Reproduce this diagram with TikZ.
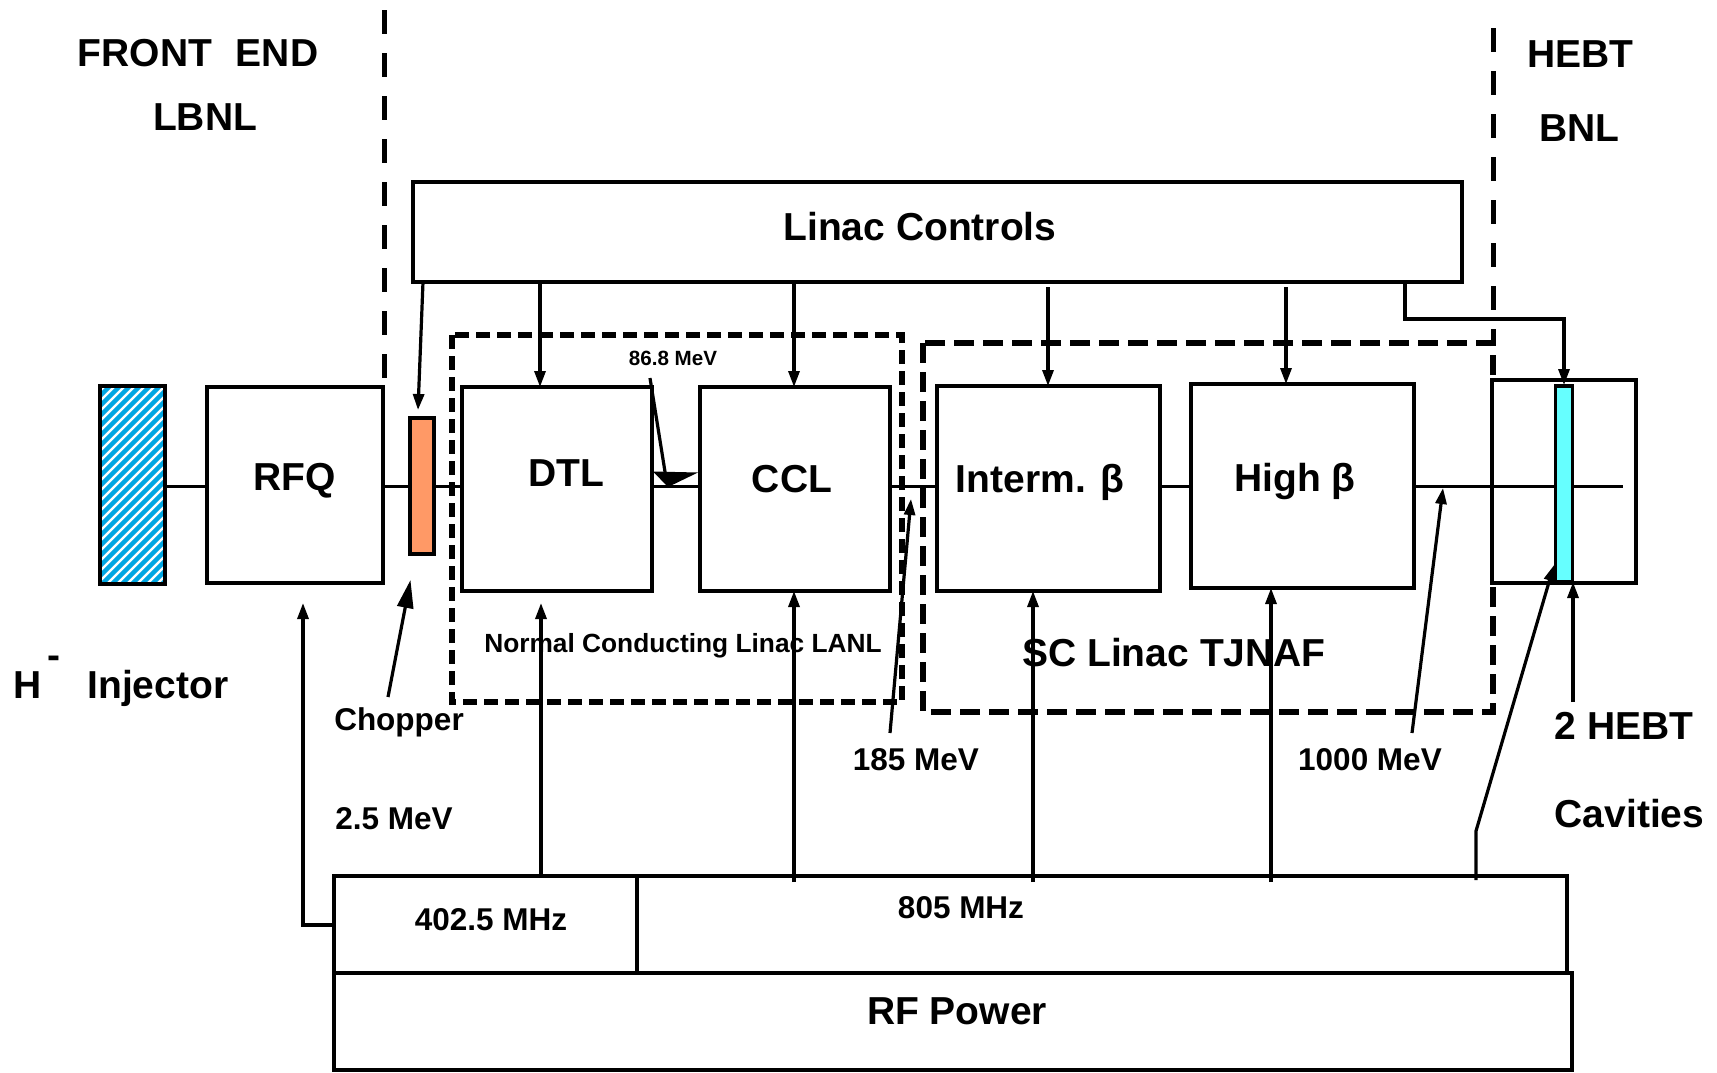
\documentclass[tikz,border=0pt]{standalone}
\usepackage{fontspec}
\setmainfont{Liberation Sans}
\usetikzlibrary{arrows.meta}
\definecolor{hatchblue}{RGB}{0,166,226}
\definecolor{chopor}{RGB}{255,153,102}
\definecolor{cavcyan}{RGB}{102,255,255}
\tikzset{
  box/.style={draw, line width=3.8pt, fill=white, inner sep=0pt, outer sep=0pt},
  big/.style={font=\fontsize{39}{46}\selectfont\bfseries, inner sep=0pt, anchor=base},
  mid/.style={font=\fontsize{31.5}{38}\selectfont\bfseries, inner sep=0pt, anchor=base},
  smalltxt/.style={font=\fontsize{26.3}{32}\selectfont\bfseries, inner sep=0pt, anchor=base},
  tinytxt/.style={font=\fontsize{20.6}{25}\selectfont\bfseries, inner sep=0pt, anchor=base},
  conn/.style={line width=3.2pt, -{Triangle[length=16pt,width=11pt]}},
  bigconn/.style={line width=3.2pt, -{Triangle[length=28pt,width=16pt]}},
  plainline/.style={line width=3.2pt},
  ncdash/.style={line width=6pt, dash pattern=on 14pt off 7pt},
  scdash/.style={line width=5.5pt, dash pattern=on 20pt off 9pt},
  sepdash/.style={line width=5pt, dash pattern=on 24pt off 19pt},
}
\begin{document}
\begin{tikzpicture}[x=1pt,y=-1pt]
\useasboundingbox (0,0) rectangle (1717,1072);

% separators
\coordinate (fe1) at (384,10);
\coordinate (fe2) at (384,387);
\draw[sepdash] (fe1) -- (fe2);
\coordinate (he1) at (1493,28);
\coordinate (he2) at (1493,343);
\draw[sepdash] (he1) -- (he2);

% group boxes
\draw[ncdash] (452,335) rectangle (902,702);
\draw[scdash] (923,343) rectangle (1493,712);

% HEBT box
\node[box, minimum width=144pt, minimum height=203pt] (hebt) at (1564,481.5) {};

% beam line
\coordinate (beamA) at (140,486);
\coordinate (beamB) at (1623,486);
\draw[line width=3pt] (beamA) -- (beamB);

% injector (hatched)
\node[box, minimum width=65pt, minimum height=198pt] (inj) at (132.5,485) {};
\begin{scope}
  \clip (100,386) rectangle (165,584);
  \foreach \k in {0,...,28} \draw[hatchblue, line width=4.5pt] ({-100+10*\k},586) -- ({100+10*\k},386);
\end{scope}
\draw[line width=4pt] (inj.north west) rectangle (inj.south east);

% main boxes
\node[box, minimum width=176pt, minimum height=196pt] (rfq) at (295,485) {};
\node[box, fill=chopor, minimum width=24pt, minimum height=136pt] (chop) at (422,486) {};
\node[box, minimum width=190pt, minimum height=204pt] (dtl) at (557,489) {};
\node[box, minimum width=190pt, minimum height=204pt] (ccl) at (795,489) {};
\node[box, minimum width=223pt, minimum height=205pt] (interm) at (1048.5,488.5) {};
\node[box, minimum width=223pt, minimum height=204pt] (high) at (1302.5,486) {};
\node[box, fill=cavcyan, minimum width=17pt, minimum height=196pt] (cav) at (1564,484) {};
\node[box, minimum width=1049pt, minimum height=100pt] (ctrl) at (937.5,232) {};
\node[box, minimum width=303pt, minimum height=97pt] (rf402) at (485.5,924.5) {};
\node[box, minimum width=930pt, minimum height=97pt] (rf805) at (1102,924.5) {};
\node[box, minimum width=1238pt, minimum height=97pt] (rfpow) at (953,1021.5) {};

% box texts
\node[big] (tctrl) at (920,240) {Linac Controls};
\node[big] (trfq) at (295,490) {RFQ};
\node[big] (tdtl) at (566,486) {DTL};
\node[big] (tccl) at (792,492) {CCL};
\node[big] (tint) at (1040,492) {Interm. β};
\node[big] (thigh) at (1295,491) {High β};
\node[mid] (t402) at (491,930) {402.5 MHz};
\node[mid] (t805) at (961,918) {805 MHz};
\node[big] (trfp) at (957,1024) {RF Power};

% controls connectors
\coordinate (kchop) at (423,282);
\draw[conn] (kchop) -- ([xshift=-4pt,yshift=8pt]chop.north);
\coordinate (kdtl) at (540,0);
\draw[conn] (kdtl |- ctrl.south) -- (kdtl |- dtl.north);
\coordinate (kccl) at (794,0);
\draw[conn] (kccl |- ctrl.south) -- (kccl |- ccl.north);
\coordinate (kint) at (1048,287);
\draw[conn] (kint) -- (kint |- interm.north);
\coordinate (khigh) at (1286,287);
\draw[conn] (khigh) -- (khigh |- high.north);
\coordinate (khb1) at (1405,282);
\coordinate (khb2) at (1564,319);
\draw[conn] (khb1) |- (khb2) -- ([yshift=1pt]cav.north);

% RF connectors
\coordinate (rfqtip) at (303,603);
\draw[conn] (rf402.west |- 0,925) -| (rfqtip);
\coordinate (dtltip) at (541,603);
\draw[conn] (dtltip |- rf402.north) -- (dtltip);
\coordinate (fccl) at (794,882);
\draw[conn] (fccl) -- (fccl |- ccl.south);
\coordinate (fint) at (1033,882);
\draw[conn] (fint) -- (fint |- interm.south);
\coordinate (fhigh) at (1271,882);
\draw[conn] (fhigh) -- (fhigh |- high.south);
\coordinate (fcav1) at (1476,880);
\coordinate (fcav2) at (1476,831);
\coordinate (fcav3) at (1554,565);
\draw[conn] (fcav1) -- (fcav2) -- (fcav3);

% labels and label arrows
\node[big] (tfe) at (198,66) {FRONT\hspace{24pt}END};
\node[big] (tlbnl) at (205,130) {LBNL};
\node[big] (thebt) at (1580.5,67) {HEBT};
\node[big] (tbnl) at (1579.5,141) {BNL};
\node[big, anchor=base west] (tinj) at (13,698) {H\hspace{6pt}\raisebox{30pt}{-}\hspace{27pt}Injector};
\node[mid] (tchop) at (399,730) {Chopper};
\coordinate (achop1) at (388,697);
\coordinate (achop2) at (410.5,580);
\draw[bigconn] (achop1) -- (achop2);
\node[mid] (t25) at (394,829) {2.5 MeV};
\node[mid] (t185) at (916,770) {185 MeV};
\coordinate (a1851) at (890,733);
\coordinate (a1852) at (911,499);
\draw[conn] (a1851) -- (a1852);
\node[mid] (t1000) at (1370,770) {1000 MeV};
\coordinate (a10001) at (1412,733);
\coordinate (a10002) at (1443,488);
\draw[conn] (a10001) -- (a10002);
\node[tinytxt] (t868) at (673,365) {86.8 MeV};
\coordinate (a8681) at (650,378);
\coordinate (a8682) at (666,478);
\draw[plainline] (a8681) -- (a8682);
\fill (653,471.5) -- (698,472.5) -- (668,487) -- cycle;
\node[smalltxt] (tnc) at (683,652) {Normal Conducting Linac LANL};
\node[big] (tsc) at (1174,666) {SC Linac TJNAF};
\node[big] (t2hebt) at (1624,739) {2 HEBT};
\node[big] (tcav) at (1629.5,827) {Cavities};
\coordinate (ahebt) at (1573,702);
\draw[conn] (ahebt) -- (ahebt |- cav.south);
\end{tikzpicture}
\end{document}
